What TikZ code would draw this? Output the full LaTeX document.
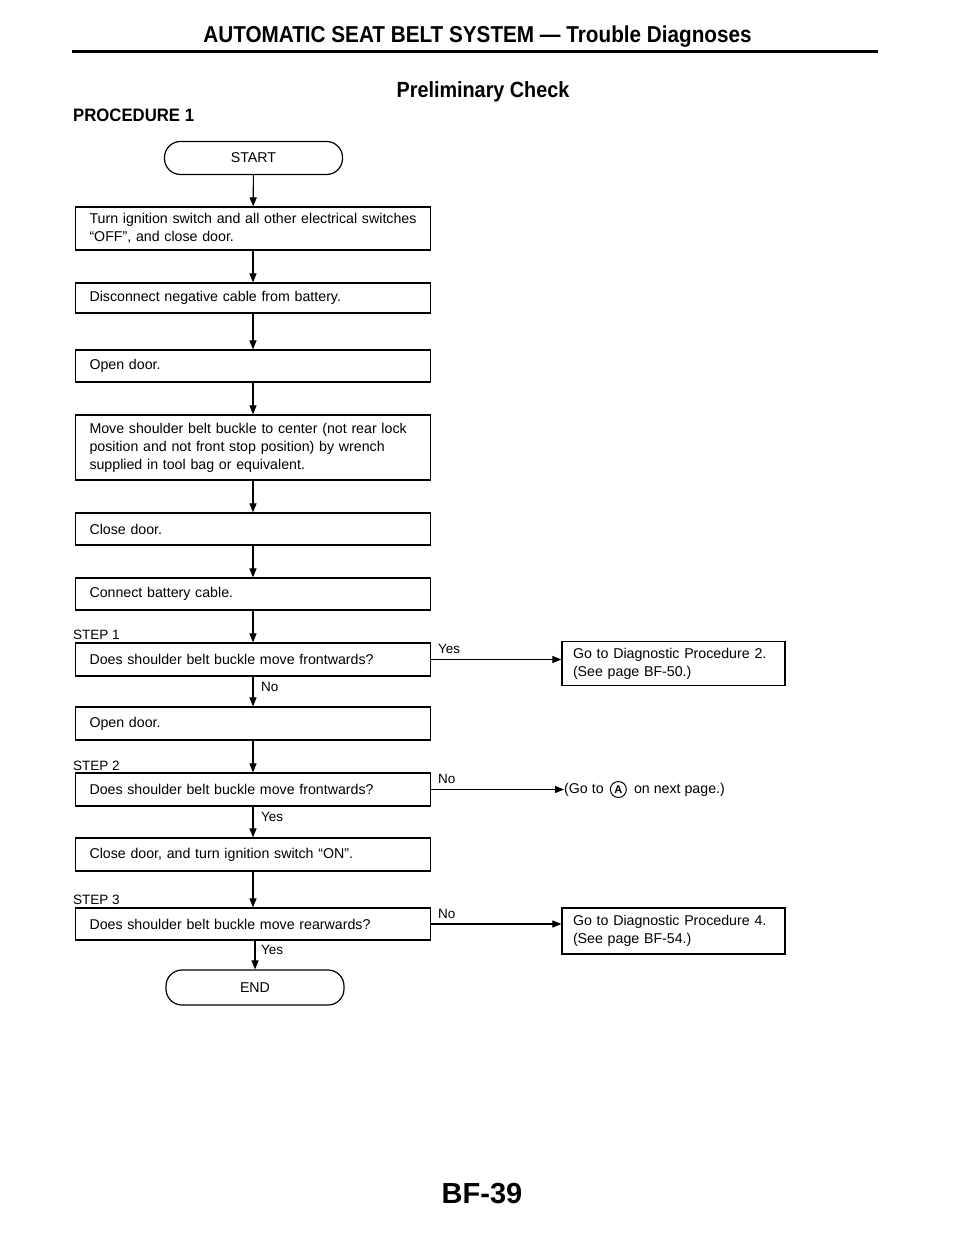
\documentclass[tikz,border=0pt]{standalone}
\usepackage{fontspec}
\setmainfont{Liberation Sans}
\usetikzlibrary{arrows.meta}
\begin{document}
\begin{tikzpicture}[x=1pt,y=-1pt,
  every node/.style={inner sep=0pt},
  box/.style={draw,line width=1.2pt,text width=327pt,inner xsep=14pt,inner ysep=0pt,align=left,font=\fontsize{14.2}{18}\selectfont},
  rbox/.style={draw,line width=1.2pt,text width=201pt,inner xsep=11pt,inner ysep=0pt,align=left,minimum height=44pt,font=\fontsize{14.2}{18}\selectfont},
  term/.style={draw,line width=1.2pt,rounded corners=16pt,minimum width=178pt,minimum height=33pt,font=\fontsize{14.2}{17}\selectfont},
  steplbl/.style={font=\fontsize{13.5}{15}\selectfont},
  lbl/.style={font=\fontsize{13.5}{15}\selectfont},
  circA/.style={draw,circle,line width=1pt,minimum size=16pt,font=\bfseries\fontsize{11}{12}\selectfont},
  arr/.style={line width=1.1pt,-{Triangle[length=9pt,width=7pt]}},
]
\fill[white] (0,0) rectangle (960,1242);
\useasboundingbox (0,0) rectangle (960,1242);

% header
\node[font=\bfseries\fontsize{23}{26}\selectfont] (hdr) at (477.5,37) {\scalebox{0.9}[1]{AUTOMATIC SEAT BELT SYSTEM — Trouble Diagnoses}};
\coordinate (ruleL) at (72,51);
\coordinate (ruleR) at (878,51);
\draw[line width=3pt] (ruleL) -- (ruleR);
\node[font=\bfseries\fontsize{22}{24}\selectfont] (title) at (483,92) {\scalebox{0.9}[1]{Preliminary Check}};
\node[font=\bfseries\fontsize{18}{20}\selectfont,anchor=west] (proc) at (73,115) {\scalebox{0.93}[1]{PROCEDURE 1}};

% flow
\node[term] (start) at (253.5,158) {START};
\node[box,minimum height=43pt] (b1) at (253,228.5) {Turn ignition switch and all other electrical switches\\“OFF”, and close door.};
\node[box,minimum height=30pt] (b2) at (253,298) {Disconnect negative cable from battery.};
\node[box,minimum height=32pt] (b3) at (253,366) {Open door.};
\node[box,minimum height=65pt] (b4) at (253,447.5) {Move shoulder belt buckle to center (not rear lock\\position and not front stop position) by wrench\\supplied in tool bag or equivalent.};
\node[box,minimum height=32pt] (b5) at (253,529) {Close door.};
\node[box,minimum height=32pt] (b6) at (253,594) {Connect battery cable.};
\node[steplbl,anchor=base west] (s1) at (73,639) {STEP 1};
\node[box,minimum height=33pt] (b7) at (253,659.5) {Does shoulder belt buckle move frontwards?};
\node[box,minimum height=33pt] (b8) at (253,723.5) {Open door.};
\node[steplbl,anchor=base west] (s2) at (73,770) {STEP 2};
\node[box,minimum height=33pt] (b9) at (253,789.5) {Does shoulder belt buckle move frontwards?};
\node[box,minimum height=33pt] (b10) at (253,854.5) {Close door, and turn ignition switch “ON”.};
\node[steplbl,anchor=base west] (s3) at (73,904) {STEP 3};
\node[box,minimum height=32pt] (b11) at (253,924) {Does shoulder belt buckle move rearwards?};
\node[term,minimum height=35pt] (end) at (255,987.5) {END};

\node[rbox] (r1) at (673.5,663.5) {Go to Diagnostic Procedure 2.\\(See page BF-50.)};
\node[rbox,minimum height=46pt] (r2) at (673.5,931) {Go to Diagnostic Procedure 4.\\(See page BF-54.)};
\node[anchor=west,font=\fontsize{14.2}{17}\selectfont] (goA) at (564,789.5) {(Go to};
\node[circA,anchor=west] (cA) at ([xshift=6pt]goA.east) {A};
\node[anchor=west,font=\fontsize{14.2}{17}\selectfont] (goB) at ([xshift=7pt]cA.east) {on next page.)};

% connectors
\draw[arr] (start) -- (b1);
\draw[arr] (b1) -- (b2);
\draw[arr] (b2) -- (b3);
\draw[arr] (b3) -- (b4);
\draw[arr] (b4) -- (b5);
\draw[arr] (b5) -- (b6);
\draw[arr] (b6) -- (b7);
\draw[arr] (b7) -- (b8);
\draw[arr] (b8) -- (b9);
\draw[arr] (b9) -- (b10);
\draw[arr] (b10) -- (b11);
\draw[arr] (b11.south -| end) -- (end);
\draw[arr] (b7.east) -- (b7.east -| r1.west);
\draw[arr] (b9.east) -- (goA.west);
\draw[arr] (b11.east) -- (b11.east -| r2.west);

% branch labels
\node[lbl,anchor=base west] (y1) at (438,653) {Yes};
\node[lbl,anchor=base west] (n1) at (261,691) {No};
\node[lbl,anchor=base west] (n2) at (438,783) {No};
\node[lbl,anchor=base west] (y2) at (261,821) {Yes};
\node[lbl,anchor=base west] (n3) at (438,918) {No};
\node[lbl,anchor=base west] (y3) at (261,954) {Yes};

% footer
\node[font=\bfseries\fontsize{29}{31}\selectfont] (pg) at (482,1194) {BF-39};
\end{tikzpicture}
\end{document}
